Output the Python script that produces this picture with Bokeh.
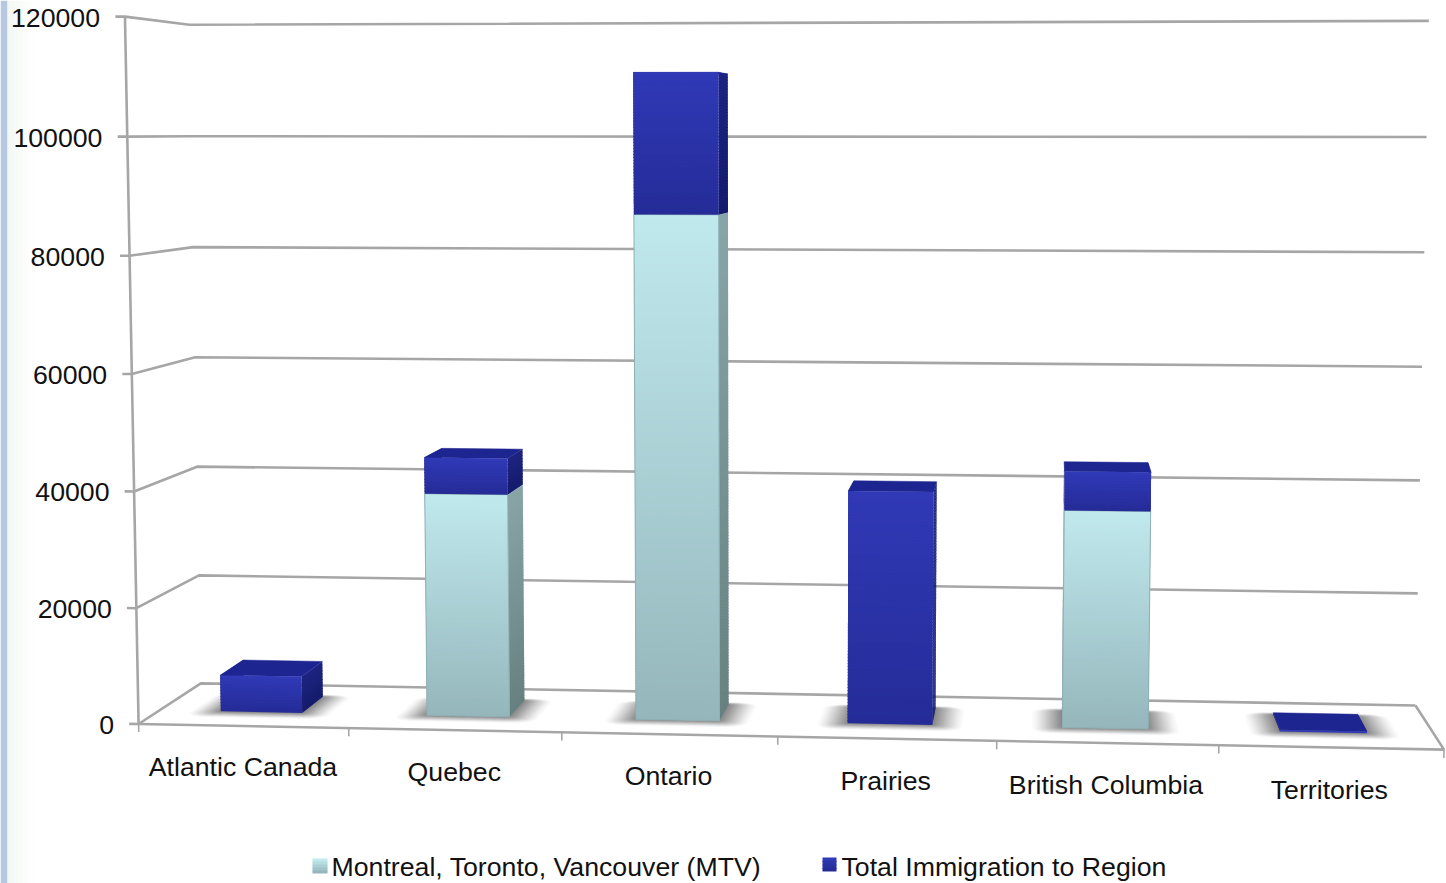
from bokeh.plotting import figure
from bokeh.models import Range1d
from bokeh.embed import file_html
from bokeh.resources import INLINE
from bokeh.core.properties import value
import numpy as np

# Chart data
regions = ["Atlantic Canada", "Quebec", "Ontario", "Prairies", "British Columbia", "Territories"]
mtv_values = [0, 38700, 86850, 0, 37170, 0]
region_values = [6400, 6280, 23990, 40040, 6630, 300]
value_ticks = [0, 20000, 40000, 60000, 80000, 100000, 120000]
legend_labels = ["Montreal, Toronto, Vancouver (MTV)", "Total Immigration to Region"]

V_MAX = 120000.0
N_CAT = len(regions)
FONT = value("Liberation Sans")

# Camera for the oblique view: world (category, depth, value) -> page pixels,
# solved from where the box corners and grid junctions sit on the page.
camera_world = [
    (0, 0, 0), (0, 0, 20000), (0, 0, 40000), (0, 0, 60000), (0, 0, 80000), (0, 0, 100000), (0, 0, 120000),
    (0, 1, 0), (0, 1, 20000), (0, 1, 40000), (0, 1, 60000), (0, 1, 80000), (0, 1, 120000),
    (6, 1, 0), (6, 1, 20000), (6, 1, 40000), (6, 1, 60000), (6, 1, 80000), (6, 1, 100000), (6, 1, 120000),
    (1, 0, 0), (2, 0, 0), (3, 0, 0), (4, 0, 0), (5, 0, 0), (6, 0, 0),
]
camera_page = [
    (139, 723), (136, 606), (134, 490), (131, 373), (129, 255), (127, 136), (124, 16),
    (201, 683), (198, 575), (196, 466), (194, 357), (192, 247), (190, 25),
    (1414, 704), (1418, 592), (1420, 480), (1422, 366), (1424, 252), (1426, 137), (1428, 20),
    (348, 728), (561, 733), (778, 738), (996, 742), (1218, 745), (1443, 748),
]


def solve_camera(world, page):
    rows = []
    for (u, d, v), (x, y) in zip(world, page):
        w = [u / N_CAT, d, v / V_MAX, 1.0]
        rows.append(w + [0, 0, 0, 0] + [-x * c for c in w])
        rows.append([0, 0, 0, 0] + w + [-y * c for c in w])
    return np.linalg.svd(np.array(rows))[2][-1].reshape(3, 4)


CAM = solve_camera(camera_world, camera_page)


def proj(u, d, v):
    h = CAM @ np.array([u / N_CAT, d, v / V_MAX, 1.0])
    return float(h[0] / h[2]), float(h[1] / h[2])


def mix(a, b, t):
    ca = [int(a[i:i + 2], 16) for i in (1, 3, 5)]
    cb = [int(b[i:i + 2], 16) for i in (1, 3, 5)]
    return "#%02x%02x%02x" % tuple(round(p + (q - p) * t) for p, q in zip(ca, cb))


p = figure(width=1446, height=883, x_range=Range1d(0, 1446), y_range=Range1d(883, 0),
           output_backend="svg", toolbar_location=None, min_border=0,
           background_fill_color="white", border_fill_color="white", outline_line_color=None)
p.axis.visible = False
p.grid.visible = False

# Slide edge: solid band with a soft fade into the page
p.quad(left=0, right=7, top=0, bottom=883, fill_color="#b5c7e1", line_color=None)
for i in range(14):
    p.quad(left=7 + i * 2, right=9 + i * 2, top=0, bottom=883,
           fill_color=mix("#f2f7f2", "#ffffff", i / 13), line_color=None)

GRID = "#a6a6a6"


def stroke(points, width=2.6):
    pts = [proj(*q) for q in points]
    p.line([q[0] for q in pts], [q[1] for q in pts], line_color=GRID, line_width=width)


# Walls and floor
p.line([proj(0, 0, 0)[0], proj(0, 0, V_MAX)[0]], [proj(0, 0, 0)[1], proj(0, 0, V_MAX)[1]],
       line_color=GRID, line_width=2.6)
for t in value_ticks:
    stroke([(-0.045, 0, t), (0, 0, t), (0, 1, t), (N_CAT, 1, t)])
stroke([(0, 0, 0), (N_CAT, 0, 0), (N_CAT, 1, 0)])
for k in range(1, N_CAT + 1):
    stroke([(k, 0, 0), (k, 0, -1400)], 1.6)
stroke([(0, 0, 0), (0, 0, -1400)], 1.6)

# Bar footprint inside a category slot and along the depth of the floor
BAR_CENTER = 0.497
BAR_HALF = 0.198
D_FRONT, D_BACK = 0.325, 0.72


def grad_quad(tl, tr, br, bl, c_top, c_bottom, step=3.0):
    # Vertical colour ramp built from bands a few pixels tall, overlapped to hide seams
    height = max(abs(bl[1] - tl[1]), abs(br[1] - tr[1]))
    n = max(1, int(height / step))
    extra = 1.0 / max(height, 1.0)
    xs, ys, cols = [], [], []
    for i in range(n):
        a, b = i / n, min(1.0, (i + 1) / n + extra)
        xs.append([tl[0] + (bl[0] - tl[0]) * a, tr[0] + (br[0] - tr[0]) * a,
                   tr[0] + (br[0] - tr[0]) * b, tl[0] + (bl[0] - tl[0]) * b])
        ys.append([tl[1] + (bl[1] - tl[1]) * a, tr[1] + (br[1] - tr[1]) * a,
                   tr[1] + (br[1] - tr[1]) * b, tl[1] + (bl[1] - tl[1]) * b])
        cols.append(mix(c_top, c_bottom, i / max(n - 1, 1)))
    p.patches(xs, ys, fill_color=cols, line_color=None)


def round_rect(u0, u1, d0, d1, ru, rd, n=6):
    pts = []
    corners = [(u1 - ru, d1 - rd, 0), (u0 + ru, d1 - rd, 90), (u0 + ru, d0 + rd, 180), (u1 - ru, d0 + rd, 270)]
    for cu, cd, start in corners:
        for j in range(n + 1):
            ang = np.radians(start + 90 * j / n)
            pts.append(proj(cu + ru * np.cos(ang), cd + rd * np.sin(ang), 0))
    return pts


def draw_shadow(k):
    # Soft contact shadow: stacked translucent rounded footprints, fainter toward the rim
    c = k + BAR_CENTER
    layers = 26
    for i in range(layers):
        g = 1 - i / layers
        eu, ed0, ed1 = 0.14 * g, 0.14 * g, 0.05 * g
        pts = round_rect(c - BAR_HALF - eu, c + BAR_HALF + eu, D_FRONT - ed0, D_BACK + ed1,
                         0.02 + 0.08 * g, 0.03 + 0.07 * g)
        p.patch([q[0] for q in pts], [q[1] for q in pts], fill_color="#505050",
                fill_alpha=0.015 + 0.045 * (1 - g), line_color=None)


def draw_segment(k, v0, v1, front_top, front_bottom, side_top, side_bottom, top_col, edge=None):
    u0, u1 = k + BAR_CENTER - BAR_HALF, k + BAR_CENTER + BAR_HALF
    for u in (u0, u1):
        grad_quad(proj(u, D_FRONT, v1), proj(u, D_BACK, v1), proj(u, D_BACK, v0), proj(u, D_FRONT, v0),
                  side_top, side_bottom)
    top = [proj(u0, D_FRONT, v1), proj(u1, D_FRONT, v1), proj(u1, D_BACK, v1), proj(u0, D_BACK, v1)]
    p.patch([q[0] for q in top], [q[1] for q in top], fill_color=top_col, line_color=top_col, line_width=0.5)
    face = [proj(u0, D_FRONT, v1), proj(u1, D_FRONT, v1), proj(u1, D_FRONT, v0), proj(u0, D_FRONT, v0)]
    grad_quad(*face, front_top, front_bottom)
    if edge:
        p.patch([q[0] for q in face], [q[1] for q in face], fill_color=None, line_color=edge, line_width=1)


for k in range(N_CAT):
    draw_shadow(k)
for k in range(N_CAT):
    lower, upper = mtv_values[k], region_values[k]
    if lower > 0:
        draw_segment(k, 0, lower, "#c0e9ed", "#95b7bc", "#88a5a8", "#668080", "#a8cdd2", edge="#8fb0b4")
    draw_segment(k, lower, lower + upper, "#3039b6", "#252c98", "#1c2480", "#141b6c", "#1d2590")

# Value labels beside the front axis
label_kw = dict(text_font=FONT, text_font_size="26.7px", text_color="#111111", text_baseline="middle")
for t in value_ticks:
    x, y = proj(-0.117, 0, t)
    p.text([x], [y + 1], text=[str(t)], text_align="right", **label_kw)

# Region names below the floor
for k, name in enumerate(regions):
    x, y = proj(k + 0.5, 0, -7100)
    p.text([x - 1], [y], text=[name], text_align="center", **label_kw)

# Legend
grad_quad((312, 858), (327, 858), (327, 873), (312, 873), "#c0e9ed", "#95b7bc")
grad_quad((822, 857), (836, 857), (836, 871), (822, 871), "#3039b6", "#252c98")
p.text([331], [866], text=[legend_labels[0]], text_align="left", **label_kw)
p.text([841], [866], text=[legend_labels[1]], text_align="left", **label_kw)

open("out.html", "w").write(file_html(p, INLINE))
